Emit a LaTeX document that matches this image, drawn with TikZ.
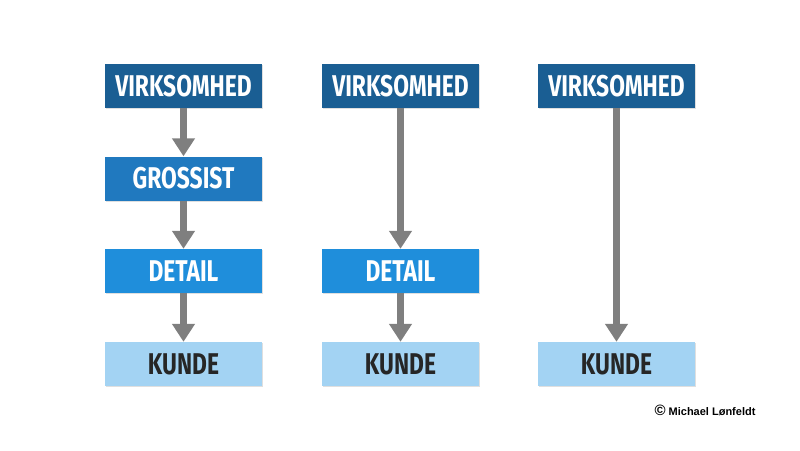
\documentclass[tikz,border=0pt]{standalone}
\usepackage{fontspec}
\setmainfont{Liberation Sans}
\newfontfamily\boxfont[FakeStretch=0.76]{Fira Sans}
\usetikzlibrary{
  arrows.meta,
  positioning,  % relative placement
  shadows,
}
\definecolor{lvlA}{HTML}{1A5E93}
\definecolor{lvlB}{HTML}{2079BF}
\definecolor{lvlC}{HTML}{1F8EDB}
\definecolor{lvlD}{HTML}{A3D3F3}
\definecolor{arrgray}{HTML}{7F7F7F}
\tikzset{
  x=1pt, y=-1pt,
  my box/.style={
    minimum width=157pt,
    minimum height=44pt,
    inner sep=0pt,
    text=white,
    font=\boxfont\bfseries\fontsize{30}{30}\selectfont,
    drop shadow={shadow xshift=1.2pt,shadow yshift=-1.2pt,opacity=0.25}
  },
  lvl a/.style={my box,fill=lvlA},
  lvl b/.style={my box,fill=lvlB},
  lvl c/.style={my box,fill=lvlC},
  lvl d/.style={my box,fill=lvlD,text=black!85},
  flow/.style={
    draw=arrgray,
    line width=7pt,
    -{Triangle[width=22pt,length=18pt]}
  }
}

\begin{document}
\begin{tikzpicture}
\useasboundingbox (0,0) rectangle (800,450);
% Column 1
\node[lvl a] (v1) at (183.5,86)  {VIRKSOMHED};
\node[lvl b] (g1) at (183.5,178.5) {GROSSIST};
\node[lvl c] (d1) at (183.5,271) {DETAIL};
\node[lvl d] (k1) at (183.5,364) {KUNDE};
\draw[flow] (v1) -- (g1);
\draw[flow] (g1) -- (d1);
\draw[flow] (d1) -- (k1);
% Column 2
\node[lvl a] (v2) at (400.5,86)  {VIRKSOMHED};
\node[lvl c] (d2) at (400.5,271) {DETAIL};
\node[lvl d] (k2) at (400.5,364) {KUNDE};
\draw[flow] (v2) -- (d2);
\draw[flow] (d2) -- (k2);
% Column 3
\node[lvl a] (v3) at (616.5,86)  {VIRKSOMHED};
\node[lvl d] (k3) at (616.5,364) {KUNDE};
\draw[flow] (v3) -- (k3);
% Credit
\node[font=\bfseries\fontsize{11}{11}\selectfont] (credit) at (705,410)
  {{\fontsize{15}{15}\selectfont\textcopyright}\ Michael Lønfeldt};
\end{tikzpicture}
\end{document}
